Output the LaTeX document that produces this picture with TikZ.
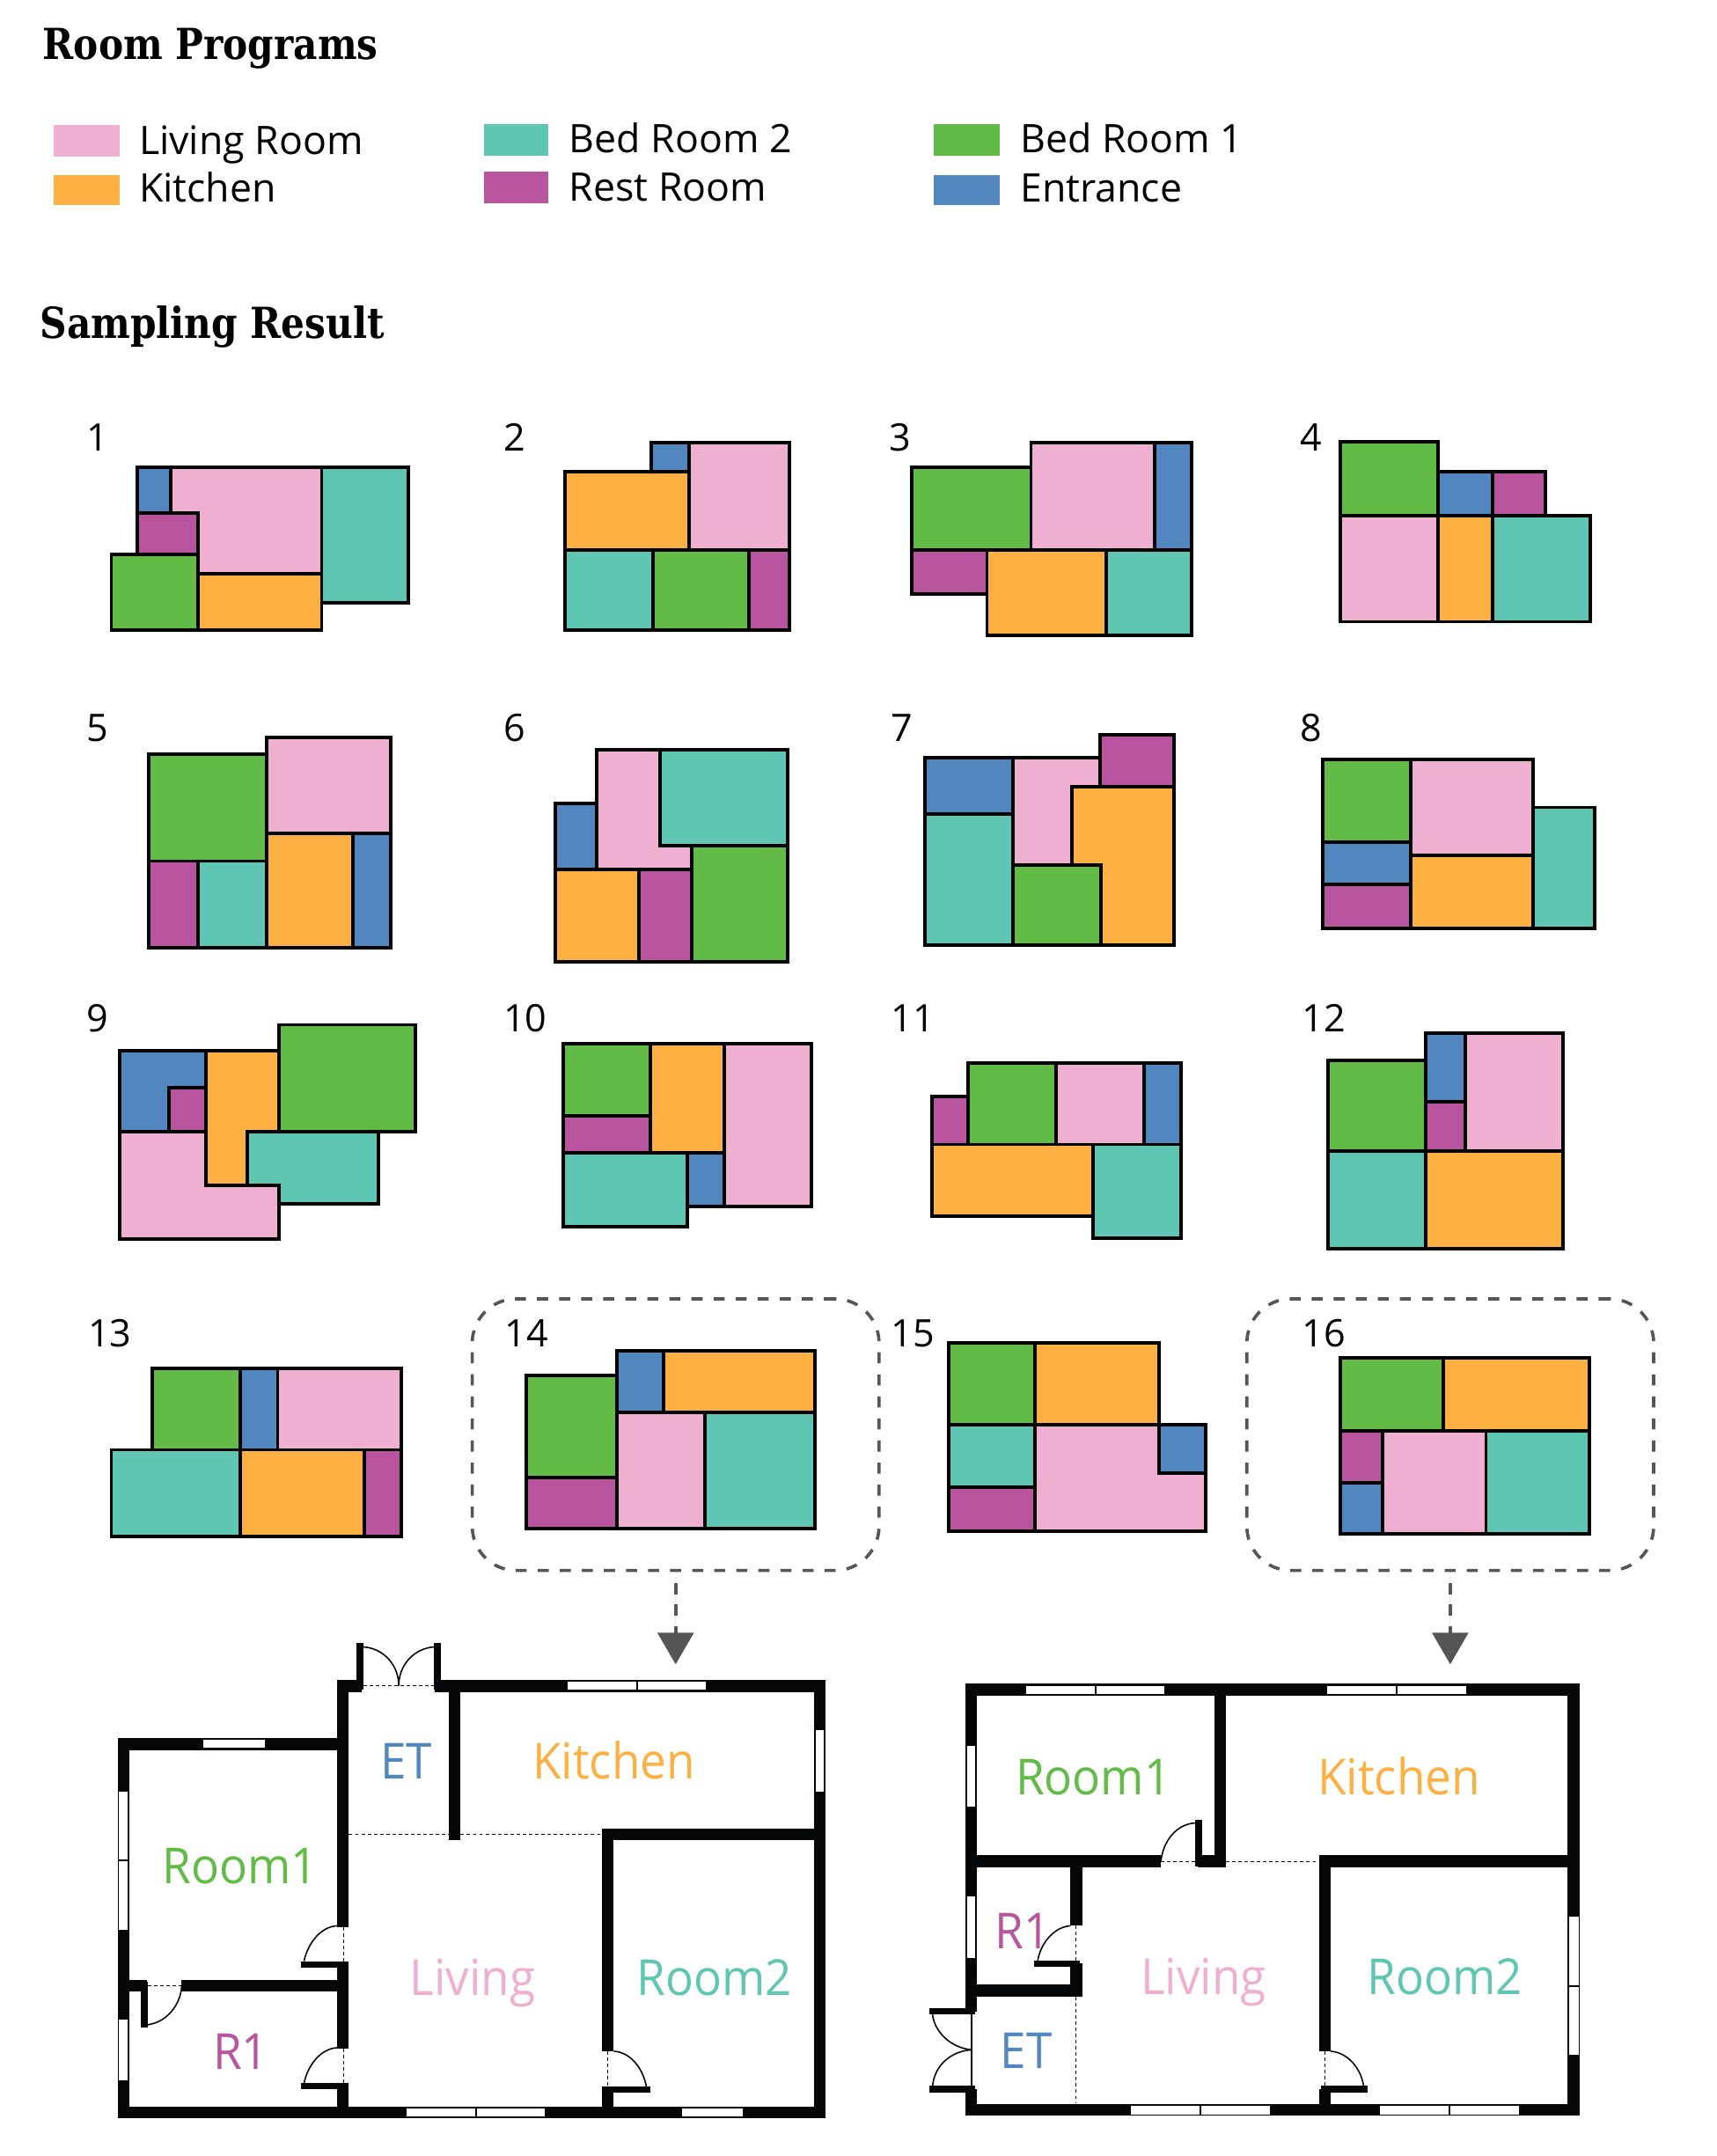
\documentclass[tikz,border=0pt]{standalone}
\usepackage{fontspec}
\setmainfont{Open Sans}
\newfontfamily\titlefont[FakeStretch=.87]{DejaVu Serif}
\newfontfamily\planfont[FakeStretch=.94]{Open Sans}
\usetikzlibrary{arrows.meta}
\definecolor{livingC}{HTML}{EFAFD0}
\definecolor{kitchenC}{HTML}{FDB042}
\definecolor{tealC}{HTML}{60C6B4}
\definecolor{greenC}{HTML}{62BB46}
\definecolor{restC}{HTML}{B9559E}
\definecolor{entryC}{HTML}{5187BE}
\definecolor{selC}{HTML}{555555}

\begin{document}
\begin{tikzpicture}[x=1pt,y=-1pt]
	\tikzstyle{living}=[draw, line width=2.5pt, fill=livingC]
	\tikzstyle{kitchen}=[draw, line width=2.5pt, fill=kitchenC]
	\tikzstyle{bedtwo}=[draw, line width=2.5pt, fill=tealC]
	\tikzstyle{bedone}=[draw, line width=2.5pt, fill=greenC]
	\tikzstyle{rest}=[draw, line width=2.5pt, fill=restC]
	\tikzstyle{entry}=[draw, line width=2.5pt, fill=entryC]
	\tikzstyle{heading}=[anchor=base west, inner sep=0pt, font=\titlefont\bfseries\fontsize{31}{34}\selectfont]
	\tikzstyle{legendtext}=[anchor=base west, inner sep=0pt, font=\fontsize{28.5}{32}\selectfont]
	\tikzstyle{num}=[anchor=base west, inner sep=0pt, font=\fontsize{27.5}{30}\selectfont]
	\tikzstyle{selbox}=[draw=selC, line width=2.3pt, rounded corners=32pt, minimum width=295pt, minimum height=197pt, dash pattern=on 8pt off 8pt]
	\tikzstyle{pick}=[-{Triangle[length=23pt,width=26pt]}, draw=selC, fill=selC, line width=2.5pt, dash pattern=on 8pt off 7.5pt]
	\tikzstyle{wall}=[fill={rgb,255:red,5;green,6;blue,8}]
	\tikzstyle{window}=[fill=white]
	\tikzstyle{swing}=[draw, line width=1pt]
	\tikzstyle{opening}=[draw, line width=.6pt, dash pattern=on 2.5pt off 2pt]
	\tikzstyle{planlabel}=[anchor=base, inner sep=0pt, font=\planfont\fontsize{36}{40}\selectfont]

	\useasboundingbox (0,0) rectangle (1245,1563.5);

	\begin{scope}[x=.9968pt,y=-.9975pt]
	% legend
	\node[heading] (titleA) at (31,43) {Room Programs};
	\fill[livingC] (39,91) rectangle (87,114);
	\fill[kitchenC] (39,127) rectangle (87,149);
	\fill[tealC] (352,90) rectangle (399,113);
	\fill[restC] (352,125) rectangle (399,148);
	\fill[greenC] (679,90) rectangle (727,113);
	\fill[entryC] (679,127) rectangle (727,149);
	\node[legendtext] (legLiving) at (101,112) {Living Room};
	\node[legendtext] (legKitchen) at (101,147) {Kitchen};
	\node[legendtext] (legBedtwo) at (414,111) {Bed Room 2};
	\node[legendtext] (legRest) at (414,146) {Rest Room};
	\node[legendtext] (legBedone) at (742,111) {Bed Room 1};
	\node[legendtext] (legEntry) at (742,147) {Entrance};
	\node[heading] (titleB) at (29,246) {Sampling Result};

	% row 1
	\node[num] (n1) at (63,328) {1};
	\draw[entry] (100,340) rectangle (124,373);
	\draw[living] (124,340) -- (234,340) -- (234,417) -- (144,417) -- (144,373) -- (124,373) -- cycle;
	\draw[rest] (100,373) rectangle (144,403);
	\draw[bedone] (81,403) rectangle (144,458);
	\draw[kitchen] (144,417) rectangle (234,458);
	\draw[bedtwo] (234,340) rectangle (297,438);

	\node[num] (n2) at (366,328) {2};
	\draw[entry] (474,322) rectangle (501,343);
	\draw[living] (501,322) rectangle (574,400);
	\draw[kitchen] (411,343) rectangle (501,400);
	\draw[bedtwo] (411,400) rectangle (475,458);
	\draw[bedone] (475,400) rectangle (545,458);
	\draw[rest] (545,400) rectangle (574,458);

	\node[num] (n3) at (647,328) {3};
	\draw[bedone] (663,340) rectangle (750,400);
	\draw[living] (750,322) rectangle (840,400);
	\draw[entry] (840,322) rectangle (867,400);
	\draw[rest] (663,400) rectangle (718,432);
	\draw[kitchen] (718,400) rectangle (805,462);
	\draw[bedtwo] (805,400) rectangle (867,462);

	\node[num] (n4) at (946,328) {4};
	\draw[bedone] (975,321) rectangle (1046,375);
	\draw[entry] (1046,343) rectangle (1086,375);
	\draw[rest] (1086,343) rectangle (1124,375);
	\draw[living] (975,375) rectangle (1046,452);
	\draw[kitchen] (1046,375) rectangle (1086,452);
	\draw[bedtwo] (1086,375) rectangle (1157,452);

	% row 2
	\node[num] (n5) at (63,539) {5};
	\draw[bedone] (108,548) rectangle (194,626);
	\draw[living] (194,536) rectangle (284,606);
	\draw[rest] (108,626) rectangle (144,689);
	\draw[bedtwo] (144,626) rectangle (194,689);
	\draw[kitchen] (194,606) rectangle (257,689);
	\draw[entry] (257,606) rectangle (284,689);

	\node[num] (n6) at (366,539) {6};
	\draw[entry] (404,584) rectangle (434,632);
	\draw[living] (434,545) -- (480,545) -- (480,615) -- (503,615) -- (503,632) -- (434,632) -- cycle;
	\draw[bedtwo] (480,545) rectangle (573,615);
	\draw[kitchen] (404,632) rectangle (465,699);
	\draw[rest] (465,632) rectangle (503,699);
	\draw[bedone] (503,615) rectangle (573,699);

	\node[num] (n7) at (648,539) {7};
	\draw[entry] (673,551) rectangle (737,592);
	\draw[bedtwo] (673,592) rectangle (737,687);
	\draw[living] (737,551) -- (800,551) -- (800,572) -- (780,572) -- (780,629) -- (737,629) -- cycle;
	\draw[rest] (800,534) rectangle (854,572);
	\draw[kitchen] (780,572) -- (854,572) -- (854,687) -- (801,687) -- (801,629) -- (780,629) -- cycle;
	\draw[bedone] (737,629) rectangle (801,687);

	\node[num] (n8) at (946,539) {8};
	\draw[bedone] (962,552) rectangle (1026,612);
	\draw[entry] (962,612) rectangle (1026,643);
	\draw[rest] (962,643) rectangle (1026,675);
	\draw[living] (1026,552) rectangle (1115,622);
	\draw[kitchen] (1026,622) rectangle (1115,675);
	\draw[bedtwo] (1115,587) rectangle (1160,675);

	% row 3
	\node[num] (n9) at (63,750) {9};
	\draw[entry] (87,764) -- (150,764) -- (150,791) -- (123,791) -- (123,823) -- (87,823) -- cycle;
	\draw[rest] (123,791) rectangle (150,823);
	\draw[kitchen] (150,764) -- (203,764) -- (203,823) -- (180,823) -- (180,862) -- (150,862) -- cycle;
	\draw[bedone] (203,745) rectangle (302,823);
	\draw[bedtwo] (180,823) rectangle (275,875);
	\draw[living] (87,823) -- (150,823) -- (150,862) -- (203,862) -- (203,901) -- (87,901) -- cycle;

	\node[num] (n10) at (366,750) {10};
	\draw[bedone] (410,759) rectangle (473,811);
	\draw[kitchen] (473,759) rectangle (527,838);
	\draw[living] (527,759) rectangle (590,877);
	\draw[rest] (410,811) rectangle (473,838);
	\draw[bedtwo] (410,838) rectangle (500,892);
	\draw[entry] (500,838) rectangle (527,877);

	\node[num] (n11) at (648,750) {11};
	\draw[rest] (678,797) rectangle (704,832);
	\draw[bedone] (704,773) rectangle (768,832);
	\draw[living] (768,773) rectangle (832,832);
	\draw[entry] (832,773) rectangle (859,832);
	\draw[kitchen] (678,832) rectangle (795,884);
	\draw[bedtwo] (795,832) rectangle (859,900);

	\node[num] (n12) at (947,750) {12};
	\draw[bedone] (966,771) rectangle (1037,837);
	\draw[entry] (1037,751) rectangle (1066,801);
	\draw[rest] (1037,801) rectangle (1066,837);
	\draw[living] (1066,751) rectangle (1137,837);
	\draw[bedtwo] (966,837) rectangle (1037,908);
	\draw[kitchen] (1037,837) rectangle (1137,908);

	% row 4
	\node[num] (n13) at (64,979) {13};
	\draw[bedone] (111,995) rectangle (175,1054);
	\draw[entry] (175,995) rectangle (202,1054);
	\draw[living] (202,995) rectangle (292,1054);
	\draw[bedtwo] (81,1054) rectangle (175,1117);
	\draw[kitchen] (175,1054) rectangle (265,1117);
	\draw[rest] (265,1054) rectangle (292,1117);

	\node[num] (n14) at (367,979) {14};
	\draw[bedone] (383,1000) rectangle (449,1074);
	\draw[entry] (449,982) rectangle (483,1027);
	\draw[kitchen] (483,982) rectangle (593,1027);
	\draw[rest] (383,1074) rectangle (449,1111);
	\draw[living] (449,1027) rectangle (513,1111);
	\draw[bedtwo] (513,1027) rectangle (593,1111);

	\node[num] (n15) at (648,979) {15};
	\draw[bedone] (690,976) rectangle (753,1036);
	\draw[kitchen] (753,976) rectangle (843,1036);
	\draw[bedtwo] (690,1036) rectangle (753,1081);
	\draw[rest] (690,1081) rectangle (753,1113);
	\draw[living] (753,1036) -- (843,1036) -- (843,1071) -- (877,1071) -- (877,1113) -- (753,1113) -- cycle;
	\draw[entry] (843,1036) rectangle (877,1071);

	\node[num] (n16) at (947,979) {16};
	\draw[bedone] (975,987) rectangle (1050,1040);
	\draw[kitchen] (1050,987) rectangle (1156,1040);
	\draw[rest] (975,1040) rectangle (1006,1078);
	\draw[entry] (975,1078) rectangle (1006,1115);
	\draw[living] (1006,1040) rectangle (1081,1115);
	\draw[bedtwo] (1081,1040) rectangle (1156,1115);

	% picked samples
	\node[selbox] (sel14) at (491.5,1043) {};
	\node[selbox] (sel16) at (1055,1043) {};
	\coordinate (tip14) at (491.5,1210);
	\coordinate (tip16) at (1055,1210);
	\draw[pick] ([yshift=-8pt]sel14.south) -- (tip14);
	\draw[pick] ([yshift=-8pt]sel16.south) -- (tip16);
	\end{scope}

	% plan of 14
	\begin{scope}[shift={(63.8,1161.5)},x=.3577pt,y=-.2563pt]
	\fill[wall] (60,385) rectangle (84,1462);
	\fill[wall] (60,385) rectangle (505,420);
	\fill[wall] (505,222) rectangle (529,920);
	\fill[wall] (505,1025) rectangle (529,1265);
	\fill[wall] (505,1368) rectangle (529,1462);
	\fill[wall] (505,222) rectangle (555,255);
	\fill[wall] (703,222) rectangle (1495,255);
	\fill[wall] (545,118) rectangle (558,250);
	\fill[wall] (702,118) rectangle (715,250);
	\fill[wall] (1472,222) rectangle (1495,1462);
	\fill[wall] (60,1428) rectangle (1495,1462);
	\fill[wall] (731,255) rectangle (755,675);
	\fill[wall] (1042,642) rectangle (1495,675);
	\fill[wall] (1042,642) rectangle (1066,1272);
	\fill[wall] (1042,1378) rectangle (1066,1462);
	\fill[wall] (1042,1372) rectangle (1140,1390);
	\fill[wall] (432,1017) rectangle (529,1036);
	\fill[wall] (432,1362) rectangle (529,1380);
	\fill[wall] (190,1070) rectangle (529,1103);
	\fill[wall] (60,1070) rectangle (120,1103);
	\fill[wall] (107,1075) rectangle (121,1205);
	\fill[window] (972,226) rectangle (1112,250);
	\fill[window] (1115,226) rectangle (1253,250);
	\fill[window] (1475,364) rectangle (1492,538);
	\fill[window] (234,390) rectangle (358,414);
	\fill[window] (62,537) rectangle (80,730);
	\fill[window] (62,735) rectangle (80,928);
	\fill[window] (62,1182) rectangle (80,1355);
	\fill[window] (645,1434) rectangle (785,1457);
	\fill[window] (788,1434) rectangle (926,1457);
	\fill[window] (1205,1434) rectangle (1328,1457);
	\draw[swing] (558,128) .. controls (600,132) and (630,180) .. (630,238);
	\draw[swing] (702,128) .. controls (660,132) and (630,180) .. (630,238);
	\draw[swing] (505,917) .. controls (470,920) and (445,970) .. (438,1017);
	\draw[swing] (505,1262) .. controls (470,1265) and (445,1315) .. (438,1362);
	\draw[swing] (1066,1272) .. controls (1100,1275) and (1125,1320) .. (1132,1372);
	\draw[swing] (190,1087) .. controls (188,1140) and (160,1190) .. (121,1197);
	\draw[opening] (558,238) -- (702,238);
	\draw[opening] (529,658) -- (1042,658);
	\draw[opening] (518,920) -- (518,1025);
	\draw[opening] (518,1265) -- (518,1368);
	\draw[opening] (1054,1272) -- (1054,1378);
	\draw[opening] (121,1086) -- (190,1086);
	\node[planlabel, text=entryC] (etA) at (645,501) {ET};
	\node[planlabel, text=kitchenC] (kitchenA) at (1066,501) {Kitchen};
	\node[planlabel, text=greenC] (roomoneA) at (308,798) {Room1};
	\node[planlabel, text=livingC] (livingA) at (780,1114) {Living};
	\node[planlabel, text=tealC] (roomtwoA) at (1270,1114) {Room2};
	\node[planlabel, text=restC] (restA) at (310,1324) {R1};
	\end{scope}

	% plan of 16
	\begin{scope}[shift={(665.5,1161.5)},x=.3246pt,y=-.2563pt]
	\node[planlabel, text=greenC] (roomoneB) at (392,547) {Room1};
	\node[planlabel, text=kitchenC] (kitchenB) at (1075,547) {Kitchen};
	\node[planlabel, text=restC] (restB) at (235,982) {R1};
	\node[planlabel, text=livingC] (livingB) at (638,1112) {Living};
	\node[planlabel, text=tealC] (roomtwoB) at (1177,1112) {Room2};
	\node[planlabel, text=entryC] (etB) at (242,1320) {ET};
	\fill[wall] (107,232) rectangle (132,1160);
	\fill[wall] (107,1378) rectangle (132,1455);
	\fill[wall] (107,232) rectangle (1478,267);
	\fill[wall] (1452,232) rectangle (1478,1455);
	\fill[wall] (107,1422) rectangle (1478,1455);
	\fill[wall] (662,267) rectangle (688,752);
	\fill[wall] (107,718) rectangle (543,752);
	\fill[wall] (626,718) rectangle (688,752);
	\fill[wall] (897,718) rectangle (1478,752);
	\fill[wall] (620,617) rectangle (636,748);
	\fill[wall] (341,752) rectangle (367,917);
	\fill[wall] (341,1023) rectangle (367,1117);
	\fill[wall] (260,1015) rectangle (363,1033);
	\fill[wall] (107,1083) rectangle (367,1117);
	\fill[wall] (25,1150) rectangle (128,1168);
	\fill[wall] (25,1370) rectangle (128,1388);
	\fill[wall] (897,718) rectangle (922,1272);
	\fill[wall] (897,1378) rectangle (922,1455);
	\fill[wall] (900,1370) rectangle (1004,1388);
	\fill[window] (242,238) rectangle (395,262);
	\fill[window] (399,238) rectangle (551,262);
	\fill[window] (915,238) rectangle (1068,262);
	\fill[window] (1072,238) rectangle (1225,262);
	\fill[window] (110,407) rectangle (129,581);
	\fill[window] (110,833) rectangle (129,1007);
	\fill[window] (1456,890) rectangle (1476,1085);
	\fill[window] (1456,1090) rectangle (1476,1283);
	\fill[window] (477,1427) rectangle (630,1451);
	\fill[window] (634,1427) rectangle (786,1451);
	\fill[window] (1033,1427) rectangle (1186,1451);
	\fill[window] (1190,1427) rectangle (1343,1451);
	\draw[swing] (120,1168) -- (120,1370);
	\draw[swing] (620,626) .. controls (575,630) and (548,680) .. (543,735);
	\draw[swing] (341,917) .. controls (305,920) and (275,965) .. (268,1015);
	\draw[swing] (922,1272) .. controls (960,1275) and (990,1320) .. (996,1370);
	\draw[swing] (33,1168) .. controls (38,1220) and (75,1262) .. (120,1268);
	\draw[swing] (33,1370) .. controls (38,1310) and (75,1272) .. (120,1268);
	\draw[opening] (543,735) -- (620,735);
	\draw[opening] (688,735) -- (897,735);
	\draw[opening] (354,917) -- (354,1023);
	\draw[opening] (354,1117) -- (354,1420);
	\draw[opening] (909,1272) -- (909,1378);
	\end{scope}
\end{tikzpicture}
\end{document}
